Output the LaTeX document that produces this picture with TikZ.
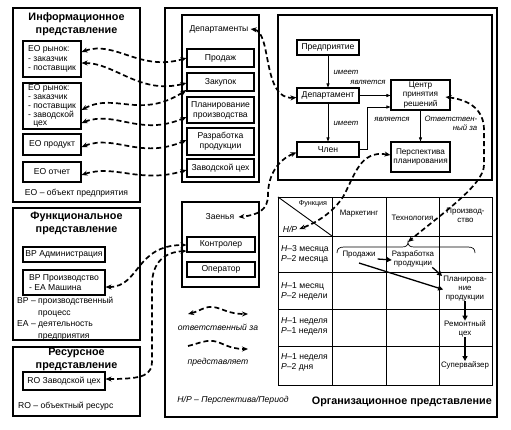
\documentclass[tikz,border=0pt]{standalone}
\usepackage{fontspec}
\setmainfont{Liberation Sans}
\usetikzlibrary{arrows.meta}
\newcommand\sm{\fontsize{8.6}{10}\selectfont}
\newcommand\tb{\fontsize{7.9}{8.8}\selectfont}
\newcommand\ttl{\fontsize{10.8}{13}\selectfont\bfseries}
\newcommand\itl{\fontsize{7.8}{8.8}\selectfont\itshape}
\newcommand\itb{\fontsize{8.6}{9.6}\selectfont\itshape}
\begin{document}
\begin{tikzpicture}[x=1pt,y=-1pt,
  fr/.style={draw,line width=1.4pt},
  bx/.style={draw,line width=1.1pt,inner sep=0pt,align=center,font=\sm},
  lbl/.style={font=\sm,inner sep=0pt,align=center},
  tl/.style={font=\tb,inner sep=0pt,align=center},
  il/.style={font=\itl,inner sep=0pt,align=center},
  thin/.style={line width=0.6pt,-{Triangle[length=4pt,width=3pt]}},
  thk/.style={line width=1.3pt,-{Triangle[length=5pt,width=5pt]}},
  dsh/.style={line width=1.7pt,dash pattern=on 5pt off 3pt,
     {Stealth[length=6pt,width=5pt]}-{Stealth[length=6pt,width=5pt]}},
  dsh1/.style={line width=1.7pt,dash pattern=on 5pt off 3pt,
     -{Stealth[length=6pt,width=5pt]}}]
\useasboundingbox (0,0) rectangle (511,429);
\fill[white] (0,0) rectangle (511,429);

% ---------- informational view ----------
\draw[fr] (13,8) rectangle (140,202);
\node[font=\ttl,align=center] (t1) at (76.5,24) {Информационное\\представление};
\node[bx,align=left,minimum width=58pt,minimum height=36pt,font=\fontsize{8.6}{9.8}\selectfont] (eo1) at (52,59) {EO рынок:\\- заказчик\\- поставщик};
\node[bx,align=left,minimum width=58pt,minimum height=46pt,font=\fontsize{8.6}{8.9}\selectfont] (eo2) at (52,106) {EO рынок:\\- заказчик\\- поставщик\\- заводской\\\hphantom{- }цех};
\node[bx,minimum width=58pt,minimum height=21pt] (eo3) at (52,144.5) {EO продукт};
\node[bx,minimum width=58pt,minimum height=20pt] (eo4) at (52,172) {EO отчет};
\node[lbl] (eoc) at (76.5,193) {EO – объект предприятия};

% ---------- functional view ----------
\draw[fr] (13,208) rectangle (140,340);
\node[font=\ttl,align=center] (t2) at (76.5,223) {Функциональное\\представление};
\node[bx,minimum width=82pt,minimum height=15pt] (bp1) at (64,254.5) {BP Администрация};
\node[bx,align=left,minimum width=82pt,minimum height=25pt] (bp2) at (64,282.5) {BP Производство\\- EA Машина};
\node[lbl,anchor=north west,align=left,font=\fontsize{8.6}{11.6}\selectfont] (bpc) at (17,297)
  {BP – производственный\\\hphantom{BP – }процесс\\EA – деятельность\\\hphantom{BP – }предприятия};

% ---------- resource view ----------
\draw[fr] (13,347) rectangle (140,416);
\node[font=\ttl,align=center] (t3) at (76.5,359.5) {Ресурсное\\представление};
\node[bx,minimum width=82pt,minimum height=18pt] (ro) at (64,381) {RO Заводской цех};
\node[lbl,anchor=west] (roc) at (18,406) {RO – объектный ресурс};

% ---------- organisational view ----------
\draw[line width=1.5pt] (165,8) rectangle (497,417);

% departments panel
\draw[fr] (182,15) rectangle (259,182);
\node[lbl] (depts) at (219,29) {Департаменты};
\node[bx,minimum width=67pt,minimum height=18pt] (prod) at (220.5,58) {Продаж};
\node[bx,minimum width=67pt,minimum height=18pt] (zak) at (220.5,82) {Закупок};
\node[bx,minimum width=67pt,minimum height=26pt] (plan) at (220.5,110) {Планирование\\производства};
\node[bx,minimum width=67pt,minimum height=27pt] (razr) at (220.5,141.5) {Разработка\\продукции};
\node[bx,minimum width=67pt,minimum height=18pt] (zav) at (220.5,168) {Заводской цех};

% upper right panel
\draw[fr] (278,15) rectangle (492,180);
\node[bx,minimum width=62pt,minimum height=15pt] (pred) at (328,47.5) {Предприятие};
\node[bx,minimum width=62pt,minimum height=15pt] (dep) at (328,95.5) {Департамент};
\node[bx,minimum width=62pt,minimum height=15pt] (chl) at (328,149.5) {Член};
\node[bx,minimum width=59pt,minimum height=30pt,font=\fontsize{8.2}{9.2}\selectfont] (cpr) at (420.5,95) {Центр\\принятия\\решений};
\node[bx,minimum width=59pt,minimum height=30pt,font=\fontsize{8.2}{9.4}\selectfont] (persp) at (420.5,157) {Перспектива\\планирования};

\draw[thin] (pred) -- (dep);
\node[il] (im1) at (346,72) {имеет};
\draw[thin] (dep) -- (chl);
\node[il] (im2) at (346,123) {имеет};
\draw[thin] (dep.east) -- (cpr.west |- dep.east);
\node[il] (ya1) at (368,82) {является};
\draw[thin] (chl.east) -- (367,149.5) -- (367,107) -- ([yshift=-12pt]cpr.west);
\node[il] (ya2) at (392,119) {является};
\draw[thin] (cpr) -- (persp);
\node[il,align=right] (otv) at (451,123) {Ответствен-\\ный за};

% links panel
\draw[fr] (182,202) rectangle (259,287);
\node[lbl] (zaen) at (220,217) {Заенья};
\node[bx,minimum width=68pt,minimum height=15pt] (ctrl) at (221,244.5) {Контролер};
\node[bx,minimum width=68pt,minimum height=15pt] (oper) at (221,269.5) {Оператор};

% legend
\coordinate (la) at (188,314);
\coordinate (lb) at (248,314);
\draw[dsh] (la) .. controls (200,311) and (205,306) .. (213,307) .. controls (222,308) and (228,314) .. (lb);
\node[font=\itb,inner sep=0pt] (lt1) at (218,327) {ответственный за};
\coordinate (lc) at (188,346);
\coordinate (ld) at (248,349);
\draw[dsh1] (lc) .. controls (200,343) and (205,340) .. (213,341) .. controls (222,342) and (228,349) .. (ld);
\node[font=\itb,inner sep=0pt] (lt2) at (218,362) {представляет};
\node[font=\itb,inner sep=0pt] (hpl) at (233,400) {Н/Р – Перспектива/Период};
\node[font=\ttl,anchor=east,inner sep=0pt] (orgt) at (492,402) {Организационное представление};

% table
\draw[line width=1pt] (278,197) rectangle (492,385);
\foreach \x in {332,386,439} \draw[line width=1pt] (\x,197) -- (\x,385);
\foreach \y in {236,272,309,346} \draw[line width=1pt] (278,\y) -- (492,\y);
\draw[line width=0.9pt] (278,197) -- (332,236);
\node[tl,font=\fontsize{7.2}{8}\selectfont] (fun) at (313,204) {Функция};
\node[font=\itb,inner sep=0pt] (hp) at (290,229) {Н/Р};
\node[tl] (mk) at (359,214) {Маркетинг};
\node[tl] (th) at (412.5,218) {Технология};
\node[tl] (pr) at (465.5,215) {Производ-\\ство};
\node[lbl,anchor=west,align=left] (r1) at (281,254.5) {\textit{Н}–3 месяца\\\textit{Р}–2 месяца};
\node[lbl,anchor=west,align=left] (r2) at (281,291) {\textit{Н}–1 месяц\\\textit{Р}–2 недели};
\node[lbl,anchor=west,align=left] (r3) at (281,326) {\textit{Н}–1 неделя\\\textit{Р}–1 неделя};
\node[lbl,anchor=west,align=left] (r4) at (281,362.5) {\textit{Н}–1 неделя\\\textit{Р}–2 дня};

% brace
\coordinate (bt) at (408,242);
\draw[line width=0.7pt] (337,253) .. controls (337,249) and (339,247) .. (344,247) -- (402,247)
  .. controls (406,247) and (408,245.5) .. (bt) .. controls (408,245.5) and (410,247) .. (414,247)
  -- (468,247) .. controls (473,247) and (475,249) .. (475,253);

\node[tl] (sal) at (359,255) {Продажи};
\node[tl] (rz) at (413,259) {Разработка\\продукции};
\node[tl] (pl) at (465,288.5) {Планирова-\\ние\\продукции};
\node[tl] (rem) at (465,329) {Ремонтный\\цех};
\node[tl] (sup) at (465,365) {Супервайзер};
\draw[thk] ([yshift=-4pt]sal.east) ++(2,0) -- ([yshift=-1pt]rz.west);
\draw[thk] ([xshift=-2pt]rz.south east) -- ([xshift=-1pt]pl.north west);
\draw[thk] ([yshift=-8pt]sal.center) -- ([yshift=-1pt]pl.west);
\draw[thk] (pl) -- (rem);
\draw[thk] (rem) -- (sup);

% ---------- dashed connectors ----------
\draw[dsh] ([yshift=7pt]eo1.east) .. controls (115,40) and (140,72) .. (prod.west);
\draw[dsh] ([yshift=-4pt]eo1.east) .. controls (115,63) and (140,95) .. ([yshift=-1pt]zak.west);
\draw[dsh] ([yshift=-4pt]eo2.east) .. controls (115,92) and (140,120) .. ([yshift=-8pt]zak.west);
\draw[dsh] ([yshift=-17pt]eo2.east) .. controls (115,110) and (140,137) .. ([yshift=-7pt]plan.west);
\draw[dsh] ([yshift=-2.5pt]eo3.east) .. controls (115,134) and (140,160) .. ([yshift=1.5pt]razr.west);
\draw[dsh] ([yshift=-3pt]eo4.east) .. controls (115,164) and (140,184) .. ([yshift=-2pt]zav.west);

\draw[dsh] ([xshift=2pt]depts.east) .. controls (272,32) and (262,100) .. ([yshift=-2pt]dep.west);
\draw[dsh] ([yshift=-3pt]chl.west) .. controls (278,160) and (268,175) .. (268,195)
  .. controls (268,210) and (258,215) .. ([xshift=4pt]zaen.east);
\draw[dsh] ([yshift=2pt]persp.west) .. controls (360,150) and (355,175) .. (343,197)
  .. controls (333,212) and (318,222) .. ([xshift=2pt]hp.east);
\draw[dsh] ([xshift=-5pt,yshift=-2pt]cpr.east) .. controls (470,100) and (484,110) .. (484,130)
  -- (484,165) .. controls (484,185) and (440,215) .. (bt);

\draw[dsh] ([yshift=-4.5pt]bp2.east) .. controls (140,287) and (135,245) .. ([yshift=-0.5pt]ctrl.west);
\draw[dsh] ([yshift=2pt]ro.east) .. controls (145,379) and (152,375) .. (152,360) -- (152,285)
  .. controls (152,262) and (165,252) .. ([yshift=-6.5pt]ctrl.west);
\end{tikzpicture}
\end{document}
